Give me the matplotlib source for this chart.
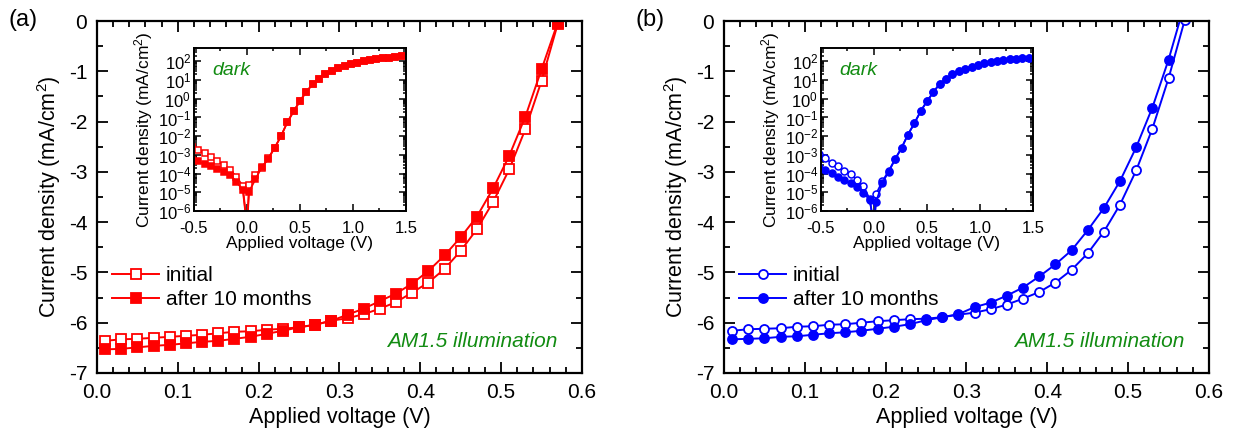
import matplotlib
matplotlib.use('Agg')
import matplotlib.pyplot as plt
import numpy as np
from matplotlib.ticker import MultipleLocator, LogLocator, NullFormatter

plt.rcParams['font.family'] = ['Liberation Sans', 'DejaVu Sans']
plt.rcParams['mathtext.fontset'] = 'custom'
plt.rcParams['mathtext.rm'] = 'Liberation Sans'
plt.rcParams['mathtext.it'] = 'Liberation Sans:italic'
plt.rcParams['mathtext.bf'] = 'Liberation Sans:bold'
plt.rcParams['mathtext.default'] = 'regular'
plt.rcParams['axes.unicode_minus'] = False

# illuminated J-V (mA/cm2)
volt = [0.01, 0.03, 0.05, 0.07, 0.09, 0.11, 0.13, 0.15, 0.17, 0.19,
        0.21, 0.23, 0.25, 0.27, 0.29, 0.31, 0.33, 0.35, 0.37, 0.39,
        0.41, 0.43, 0.45, 0.47, 0.49, 0.51, 0.53, 0.55, 0.57]
a_initial = [-6.36, -6.33, -6.32, -6.30, -6.28, -6.26, -6.24, -6.21, -6.18, -6.17,
             -6.14, -6.12, -6.09, -6.04, -5.96, -5.91, -5.83, -5.72, -5.59, -5.40,
             -5.20, -4.93, -4.57, -4.14, -3.60, -2.95, -2.15, -1.19, -0.06]
a_after = [-6.53, -6.52, -6.49, -6.46, -6.44, -6.41, -6.38, -6.36, -6.32, -6.28,
           -6.22, -6.16, -6.09, -6.04, -5.96, -5.84, -5.72, -5.57, -5.42, -5.22,
           -4.97, -4.66, -4.30, -3.89, -3.33, -2.68, -1.90, -0.96, -0.03]
b_initial = [-6.16, -6.13, -6.12, -6.11, -6.08, -6.07, -6.04, -6.03, -6.00, -5.97,
             -5.95, -5.93, -5.92, -5.89, -5.84, -5.80, -5.73, -5.64, -5.52, -5.39,
             -5.20, -4.95, -4.62, -4.19, -3.65, -2.97, -2.14, -1.14, 0.02]
b_after = [-6.33, -6.32, -6.31, -6.28, -6.27, -6.24, -6.21, -6.19, -6.16, -6.12,
           -6.08, -6.03, -5.95, -5.89, -5.83, -5.69, -5.60, -5.46, -5.30, -5.08,
           -4.84, -4.56, -4.16, -3.72, -3.18, -2.51, -1.72, -0.77, 0.35]

# dark J-V, log10 of |J| (mA/cm2)
dark_v = [-0.52, -0.46, -0.40, -0.34, -0.28, -0.22, -0.16, -0.10, -0.04, 0.0,
          0.02, 0.08, 0.14, 0.20, 0.26, 0.32, 0.38, 0.44, 0.50, 0.56,
          0.62, 0.68, 0.74, 0.80, 0.86, 0.92, 0.98, 1.04, 1.10, 1.16,
          1.22, 1.28, 1.34, 1.40, 1.46]
a_dark_initial = [-2.60, -2.76, -2.90, -3.09, -3.35, -3.53, -3.80, -4.16, -4.66, -6.8,
                  -4.60, -4.07, -3.71, -3.18, -2.63, -2.01, -1.26, -0.67, -0.12, 0.38,
                  0.78, 1.07, 1.30, 1.48, 1.62, 1.75, 1.84, 1.93, 2.00, 2.05,
                  2.11, 2.16, 2.20, 2.23, 2.28]
a_dark_after = [-3.25, -3.35, -3.48, -3.62, -3.75, -3.89, -4.07, -4.43, -4.87, -6.8,
                -4.96, -4.30, -3.65, -3.22, -2.63, -2.01, -1.26, -0.67, -0.12, 0.38,
                0.78, 1.07, 1.30, 1.48, 1.62, 1.75, 1.84, 1.93, 2.00, 2.05,
                2.11, 2.16, 2.20, 2.23, 2.28]
b_dark_initial = [-2.95, -3.17, -3.44, -3.62, -3.84, -4.01, -4.34, -4.66, -5.37, -6.8,
                  -5.09, -4.40, -3.85, -3.22, -2.63, -1.92, -1.32, -0.67, -0.13, 0.35,
                  0.80, 1.07, 1.32, 1.46, 1.61, 1.71, 1.80, 1.89, 1.96, 2.00,
                  2.05, 2.11, 2.14, 2.16, 2.20]
b_dark_after = [-3.65, -3.80, -3.98, -4.16, -4.34, -4.51, -4.73, -5.02, -5.41, -6.8,
                -5.50, -4.48, -3.89, -3.22, -2.63, -1.92, -1.32, -0.67, -0.13, 0.35,
                0.80, 1.07, 1.32, 1.46, 1.61, 1.71, 1.80, 1.89, 1.96, 2.00,
                2.05, 2.11, 2.14, 2.16, 2.20]

GREEN = '#128c12'

fig = plt.figure(figsize=(12.34, 4.41), dpi=100)


def main_panel(left, color, marker, initial, after, tag):
    ax = fig.add_axes([left, 0.1542, 0.393, 0.798])
    ax.plot(volt, initial, '-', color=color, marker=marker, mfc='white', mec=color,
            ms=6.5, mew=1.3, lw=1.4, label='initial')
    ax.plot(volt, after, '-', color=color, marker=marker, mfc=color, mec=color,
            ms=6.5, mew=1.3, lw=1.4, label='after 10 months')
    ax.set_xlim(0, 0.6)
    ax.set_ylim(-7, 0)
    ax.xaxis.set_major_locator(MultipleLocator(0.1))
    ax.xaxis.set_minor_locator(MultipleLocator(0.02))
    ax.yaxis.set_major_locator(MultipleLocator(1))
    ax.yaxis.set_minor_locator(MultipleLocator(0.5))
    ax.tick_params(which='both', direction='in', top=True, right=True, width=1.3, labelsize=15)
    ax.tick_params(which='major', length=8, pad=7)
    ax.tick_params(which='minor', length=4)
    for s in ax.spines.values():
        s.set_linewidth(1.6)
    ax.set_xlabel('Applied voltage (V)', fontsize=15.5)
    ax.set_ylabel('Current density (mA/cm$^2$)', fontsize=15.5)
    ax.legend(loc='upper left', bbox_to_anchor=(0.0, 0.345), frameon=False, fontsize=15,
              handlelength=2.3, handletextpad=0.3, labelspacing=0.25, borderaxespad=0.3)
    ax.text(0.95, 0.09, 'AM1.5 illumination', transform=ax.transAxes, ha='right',
            va='center', color=GREEN, style='italic', fontsize=15)
    fig.text(left - 0.072, 0.955, tag, fontsize=17, va='center')
    return ax


def inset_panel(left, color, marker, initial, after):
    ax = fig.add_axes([left, 0.5215, 0.1718, 0.369])
    ax.plot(dark_v, 10 ** np.array(initial), '-', color=color, marker=marker, mfc='white',
            mec=color, ms=5, mew=1.1, lw=1.3)
    ax.plot(dark_v, 10 ** np.array(after), '-', color=color, marker=marker, mfc=color,
            mec=color, ms=5, mew=1.1, lw=1.3)
    ax.set_yscale('log')
    ax.set_xlim(-0.5, 1.5)
    ax.set_ylim(1e-6, 5e2)
    ax.xaxis.set_major_locator(MultipleLocator(0.5))
    ax.xaxis.set_minor_locator(MultipleLocator(0.25))
    ax.yaxis.set_major_locator(LogLocator(base=10, numticks=20))
    ax.yaxis.set_minor_locator(LogLocator(base=10, subs=np.arange(2, 10), numticks=20))
    ax.yaxis.set_minor_formatter(NullFormatter())
    ax.tick_params(which='both', direction='in', top=True, right=True, width=1.1, labelsize=12)
    ax.tick_params(which='major', length=5)
    ax.tick_params(axis='x', which='major', pad=7)
    ax.tick_params(axis='y', which='major', pad=2)
    ax.tick_params(which='minor', length=2.5)
    for s in ax.spines.values():
        s.set_linewidth(1.4)
    ax.set_xlabel('Applied voltage (V)', fontsize=12.5, labelpad=0)
    ax.set_ylabel('Current density (mA/cm$^2$)', fontsize=12.5, labelpad=2)
    ax.text(0.085, 0.865, 'dark', transform=ax.transAxes, ha='left', va='center',
            color=GREEN, style='italic', fontsize=14)
    return ax


main_panel(0.0786, 'red', 's', a_initial, a_after, '(a)')
inset_panel(0.1572, 'red', 's', a_dark_initial, a_dark_after)
main_panel(0.5867, 'blue', 'o', b_initial, b_after, '(b)')
inset_panel(0.6653, 'blue', 'o', b_dark_initial, b_dark_after)

fig.savefig('out.png', dpi=100)
